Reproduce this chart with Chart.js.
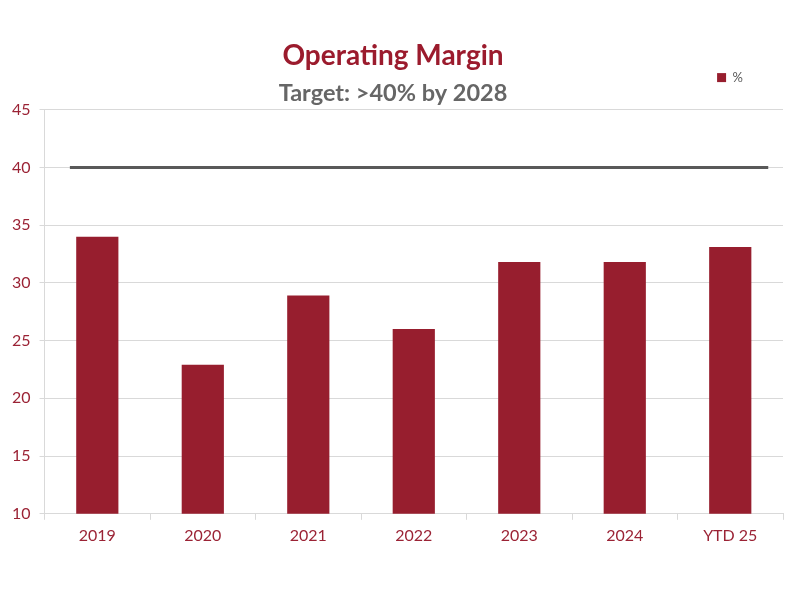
<!DOCTYPE html>
<html>
<head>
<meta charset="utf-8">
<script src="https://cdn.jsdelivr.net/npm/chart.js@4"></script>
<style>
  body { margin: 0; background: #fff; }
</style>
</head>
<body>
<canvas id="stat1" width="795" height="589"></canvas>
<script>
// data
var years = ['2019', '2020', '2021', '2022', '2023', '2024', 'YTD 25'];
var margin = [34.0, 22.9, 28.9, 26.0, 31.8, 31.8, 33.1];
var targetX = [-0.26, 6.36];
var targetY = [40, 40];
var yTicks = [10, 15, 20, 25, 30, 35, 40, 45];

var red = '#971E2E';
var tickRed = '#9B2335';
var gridGrey = '#D9D9D9';

var targetPts = targetX.map(function (x, i) { return { x: x, y: targetY[i] }; });

var ctx = document.getElementById("stat1").getContext("2d");
var myChart = new Chart(ctx, {
    type: "bar",
    data: {
        labels: years,
        datasets: [{
            label: '%',
            data: margin,
            backgroundColor: red,
            borderColor: red,
            borderWidth: 0,
            grouped: false,
            barPercentage: 0.4,
            categoryPercentage: 1.0,
            order: 2
        }, {
            type: 'line',
            label: 'Target',
            data: targetPts,
            xAxisID: 'xLine',
            borderColor: '#595959',
            borderWidth: 3,
            pointRadius: 0,
            tension: 0,
            order: 1
        }]
    },
    options: {
        responsive: false,
        animation: false,
        layout: {
            padding: { top: 0, left: 3, right: 12, bottom: 38 }
        },
        plugins: {
            title: {
                display: true,
                text: 'Operating Margin',
                color: '#9B1B2D',
                font: { family: 'Lato', size: 28, weight: 'bold' },
                padding: { top: 39.2, bottom: -41.7 },
                weight: 3000
            },
            legend: {
                display: true,
                position: 'top',
                align: 'end',
                weight: 2500,
                labels: {
                    color: '#595959',
                    font: { family: 'Lato', size: 13 },
                    boxWidth: 9,
                    boxHeight: 9,
                    padding: 40,
                    filter: function (item) { return item.datasetIndex === 0; }
                }
            },
            subtitle: {
                display: true,
                text: 'Target: >40% by 2028',
                color: '#666666',
                font: { family: 'Lato', size: 23.5, weight: 'bold' },
                padding: { top: -15.2, bottom: 2.6 },
                weight: 2000
            },
            tooltip: { enabled: false }
        },
        scales: {
            x: {
                type: 'category',
                grid: {
                    offset: true,
                    drawOnChartArea: false,
                    color: gridGrey,
                    tickLength: 6
                },
                border: { color: gridGrey },
                ticks: {
                    color: tickRed,
                    font: { family: 'Lato', size: 16 },
                    padding: 6
                }
            },
            xLine: {
                type: 'linear',
                display: false,
                offset: false,
                min: -0.5,
                max: 6.5
            },
            y: {
                min: yTicks[0],
                max: yTicks[yTicks.length - 1],
                afterBuildTicks: function (axis) {
                    axis.ticks = yTicks.map(function (v) { return { value: v }; });
                },
                grid: {
                    color: gridGrey,
                    tickLength: 5
                },
                border: { color: gridGrey },
                ticks: {
                    color: tickRed,
                    font: { family: 'Lato', size: 16 },
                    padding: 9
                }
            }
        }
    }
});
</script>
</body>
</html>
